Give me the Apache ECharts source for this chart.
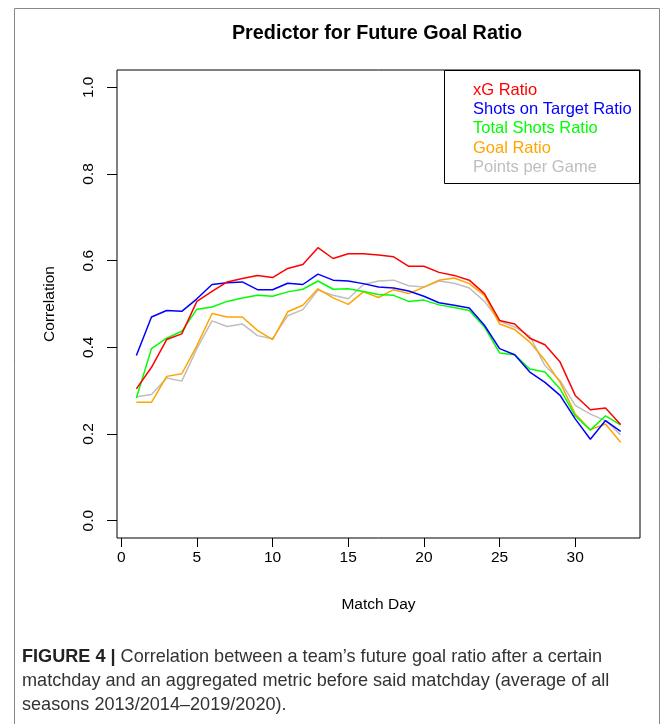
<!DOCTYPE html>
<html>
<head>
<meta charset="utf-8">
<script src="https://cdn.jsdelivr.net/npm/echarts@6/dist/echarts.min.js"></script>
<style>
html,body{margin:0;padding:0;background:#fff;}
#chart{width:670px;height:724px;}
</style>
</head>
<body>
<div id="chart"></div>
<script>
var matchDays = [1,2,3,4,5,6,7,8,9,10,11,12,13,14,15,16,17,18,19,20,21,22,23,24,25,26,27,28,29,30,31,32,33];
var xgRatio = [0.304,0.354,0.418,0.431,0.506,0.529,0.551,0.559,0.566,0.561,0.582,0.591,0.630,0.605,0.616,0.616,0.613,0.609,0.587,0.587,0.573,0.566,0.555,0.524,0.462,0.454,0.421,0.406,0.366,0.289,0.256,0.260,0.222];
var shotsOnTargetRatio = [0.381,0.470,0.485,0.483,0.512,0.545,0.549,0.551,0.533,0.533,0.548,0.545,0.569,0.555,0.553,0.547,0.539,0.537,0.530,0.518,0.503,0.497,0.491,0.451,0.397,0.383,0.343,0.319,0.289,0.235,0.188,0.231,0.206];
var totalShotsRatio = [0.283,0.397,0.421,0.437,0.488,0.493,0.506,0.514,0.520,0.518,0.528,0.534,0.553,0.534,0.535,0.529,0.522,0.520,0.506,0.509,0.498,0.492,0.485,0.447,0.387,0.383,0.350,0.343,0.304,0.242,0.209,0.242,0.221];
var goalRatio = [0.273,0.273,0.333,0.339,0.404,0.478,0.470,0.470,0.439,0.418,0.482,0.497,0.535,0.514,0.499,0.528,0.515,0.533,0.524,0.539,0.555,0.560,0.547,0.520,0.454,0.441,0.412,0.370,0.319,0.246,0.210,0.223,0.181];
var pointsPerGame = [0.286,0.291,0.329,0.322,0.397,0.461,0.448,0.454,0.427,0.420,0.473,0.487,0.532,0.520,0.512,0.545,0.553,0.555,0.542,0.539,0.553,0.548,0.537,0.506,0.460,0.447,0.426,0.358,0.323,0.266,0.246,0.231,0.198];
var xTicks = [0,5,10,15,20,25,30];
var yTicks = [0,0.2,0.4,0.6,0.8,1.0];
var seriesNames = ['xG Ratio','Shots on Target Ratio','Total Shots Ratio','Goal Ratio','Points per Game'];
var seriesColors = ['#ff0000','#0000ff','#00ff00','#ffa500','#bebebe'];
var seriesValues = [xgRatio, shotsOnTargetRatio, totalShotsRatio, goalRatio, pointsPerGame];

var chart = echarts.init(document.getElementById('chart'), null, {renderer:'canvas'});
var font = 'Liberation Sans, Arial, sans-serif';

var series = seriesNames.map(function(n, i){
  return {
    name: n, type: 'line', showSymbol: false, symbol: 'none',
    data: matchDays.map(function(d, k){ return [d, seriesValues[i][k]]; }),
    lineStyle: {color: seriesColors[i], width: 1.5},
    itemStyle: {color: seriesColors[i]},
    animation: false, z: 5 - i
  };
});

chart.setOption({
  animation: false,
  backgroundColor: '#fff',
  title: {
    text: 'Predictor for Future Goal Ratio',
    left: 372, top: 19, textAlign: 'center',
    textStyle: {fontFamily: font, fontWeight: 'bold', fontSize: 19.8, color: '#000'}
  },
  grid: {left: 117, right: 30, top: 70, bottom: 186, show: true, borderColor: '#000', borderWidth: 1, backgroundColor: 'transparent'},
  legend: {
    orient: 'vertical', left: 461, top: 76, itemGap: 1.5, itemWidth: 2, itemHeight: 18.5,
    icon: 'none', selectedMode: false, z: 20,
    data: seriesNames.map(function(n, i){ return {name: n, textStyle: {color: seriesColors[i]}}; }),
    textStyle: {fontFamily: font, fontSize: 16.5}
  },
  xAxis: {
    type: 'value', min: -0.28, max: 34.28,
    name: 'Match Day', nameLocation: 'middle', nameGap: 59,
    nameTextStyle: {fontFamily: font, fontSize: 15.5, color: '#000'},
    splitLine: {show: false},
    axisLine: {show: false, onZero: false},
    axisTick: {show: true, length: 9, lineStyle: {color: '#000'}, customValues: xTicks},
    axisLabel: {show: true, margin: 12, fontFamily: font, fontSize: 15.5, color: '#000', customValues: xTicks}
  },
  yAxis: {
    type: 'value', min: -0.04, max: 1.04,
    name: 'Correlation', nameLocation: 'middle', nameGap: 59, nameRotate: 90,
    nameTextStyle: {fontFamily: font, fontSize: 15.5, color: '#000'},
    splitLine: {show: false},
    axisLine: {show: false, onZero: false},
    axisTick: {show: true, length: 10, lineStyle: {color: '#000'}, customValues: yTicks},
    axisLabel: {show: true, rotate: 90, margin: 20, fontFamily: font, fontSize: 15.5, color: '#000', customValues: yTicks,
      formatter: function(v){ return v.toFixed(1); }}
  },
  graphic: [
    {type: 'rect', shape: {x: 14.5, y: 8.5, width: 645, height: 740}, style: {fill: 'none', stroke: '#888', lineWidth: 1}, silent: true, z: -1},
    {type: 'rect', shape: {x: 444.5, y: 70.5, width: 195, height: 113}, style: {fill: 'none', stroke: '#000', lineWidth: 1}, silent: true, z: 10},
    {type: 'text', left: 22, top: 645, silent: true, style: {
      text: '{b|FIGURE 4 |} Correlation between a team\u2019s future goal ratio after a certain\nmatchday and an aggregated metric before said matchday (average of all\nseasons 2013/2014\u20132019/2020).',
      fontFamily: font, fontSize: 18.1, lineHeight: 24, fill: '#333',
      rich: {b: {fontWeight: 'bold', fontFamily: font, fontSize: 18.1, lineHeight: 24, fill: '#222'}}
    }}
  ],
  series: series
});
</script>
</body>
</html>
